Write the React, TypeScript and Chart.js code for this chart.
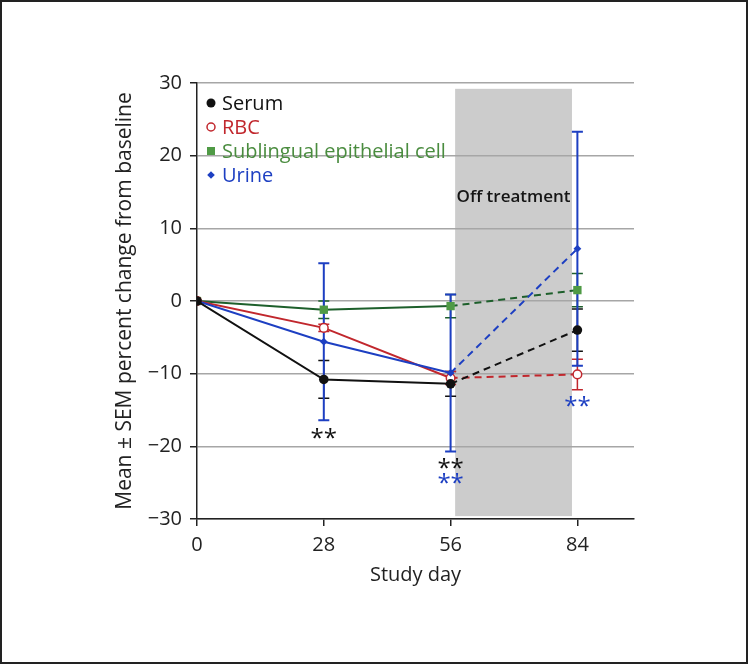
import React, { useEffect, useRef } from 'react';
import { Chart, registerables } from 'chart.js';

Chart.register(...registerables);

const FONT = "'Open Sans', 'Noto Sans', sans-serif";

const days = [0, 28, 56, 84];
const xTickValues = [0, 28, 56, 84];
const yTickValues = [-30, -20, -10, 0, 10, 20, 30];

const serumLabel = 'Serum';
const serum = [0, -10.8, -11.4, -4.0];
const serumSem = [0, 2.6, 1.7, 2.9];

const rbcLabel = 'RBC';
const rbc = [0, -3.7, -10.6, -10.1];
const rbcSem = [0, 0.5, 0.9, 2.1];

const sublingualLabel = 'Sublingual epithelial cell';
const sublingual = [0, -1.2, -0.7, 1.5];
const sublingualSem = [0, 1.2, 1.6, 2.3];

const urineLabel = 'Urine';
const urine = [0, -5.6, -9.9, 7.2];
const urineSem = [0, 10.8, 10.8, 16.1];

const offTreatmentDays = [57, 82.8];
const offTreatmentLevels = [-29.6, 29.2];
const offTreatmentLabel = 'Off treatment';

// significance markers: day, anchor value, text, series colour key
const sigDays = [28, 56, 56, 84];
const sigLevels = [-18.5, -22.6, -24.7, -14.1];
const sigKeys = ['serum', 'serum', 'urine', 'urine'];

const COLORS: Record<string, { line: string; marker: string; text: string }> = {
  serum: { line: '#111111', marker: '#111111', text: '#111111' },
  rbc: { line: '#c1272d', marker: '#c1272d', text: '#c1272d' },
  sublingual: { line: '#1d5f2b', marker: '#4f9a45', text: '#4a8c3f' },
  urine: { line: '#1d3fc2', marker: '#1d3fc2', text: '#1d3fc2' },
};

type SeriesDef = {
  key: string;
  label: string;
  values: number[];
  sem: number[];
  style: 'circle' | 'open' | 'square' | 'diamond';
};

const SERIES: SeriesDef[] = [
  { key: 'serum', label: serumLabel, values: serum, sem: serumSem, style: 'circle' },
  { key: 'rbc', label: rbcLabel, values: rbc, sem: rbcSem, style: 'open' },
  { key: 'sublingual', label: sublingualLabel, values: sublingual, sem: sublingualSem, style: 'square' },
  { key: 'urine', label: urineLabel, values: urine, sem: urineSem, style: 'diamond' },
];

function drawMarker(ctx: CanvasRenderingContext2D, style: string, key: string, x: number, y: number) {
  const c = COLORS[key];
  ctx.save();
  ctx.beginPath();
  if (style === 'circle') {
    ctx.arc(x, y, 4.5, 0, Math.PI * 2);
    ctx.fillStyle = c.marker;
    ctx.fill();
  } else if (style === 'open') {
    ctx.arc(x, y, 4, 0, Math.PI * 2);
    ctx.fillStyle = '#fff';
    ctx.fill();
    ctx.lineWidth = 1.5;
    ctx.strokeStyle = c.marker;
    ctx.stroke();
  } else if (style === 'square') {
    ctx.rect(x - 4, y - 4, 8, 8);
    ctx.fillStyle = c.marker;
    ctx.fill();
  } else {
    ctx.moveTo(x - 3.8, y);
    ctx.lineTo(x, y - 3.8);
    ctx.lineTo(x + 3.8, y);
    ctx.lineTo(x, y + 3.8);
    ctx.closePath();
    ctx.fillStyle = c.marker;
    ctx.fill();
  }
  ctx.restore();
}

const decorPlugin = {
  id: 'decor',
  beforeDraw(chart: any) {
    const { ctx, scales } = chart;
    const x = scales.x;
    const y = scales.y;
    const x0 = x.getPixelForValue(offTreatmentDays[0]);
    const x1 = x.getPixelForValue(offTreatmentDays[1]);
    const y0 = y.getPixelForValue(offTreatmentLevels[1]);
    const y1 = y.getPixelForValue(offTreatmentLevels[0]);
    ctx.save();
    ctx.fillStyle = '#cccccc';
    ctx.fillRect(x0, y0, x1 - x0, y1 - y0);
    ctx.restore();
  },
  beforeDatasetsDraw(chart: any) {
    const { ctx, scales } = chart;
    const x = scales.x;
    const y = scales.y;
    ctx.save();
    SERIES.forEach((s) => {
      ctx.strokeStyle = COLORS[s.key].line;
      ctx.lineWidth = s.key === 'urine' ? 2 : 1.5;
      days.forEach((d, i) => {
        const e = s.sem[i];
        if (!e) return;
        const px = x.getPixelForValue(d);
        const pt = y.getPixelForValue(s.values[i] + e);
        const pb = y.getPixelForValue(s.values[i] - e);
        ctx.beginPath();
        ctx.moveTo(px, pt);
        ctx.lineTo(px, pb);
        ctx.moveTo(px - 5.5, pt);
        ctx.lineTo(px + 5.5, pt);
        ctx.moveTo(px - 5.5, pb);
        ctx.lineTo(px + 5.5, pb);
        ctx.stroke();
      });
    });
    ctx.restore();
  },
  afterDraw(chart: any) {
    const { ctx, scales, chartArea } = chart;
    const x = scales.x;
    const y = scales.y;
    ctx.save();
    // Off treatment label
    ctx.font = `600 17px ${FONT}`;
    ctx.fillStyle = '#151515';
    ctx.textAlign = 'center';
    ctx.textBaseline = 'middle';
    const cx = (x.getPixelForValue(offTreatmentDays[0]) + x.getPixelForValue(offTreatmentDays[1])) / 2;
    ctx.fillText(offTreatmentLabel, cx, y.getPixelForValue(14.3));

    // significance stars
    ctx.font = `24px ${FONT}`;
    sigDays.forEach((d, i) => {
      ctx.fillStyle = COLORS[sigKeys[i]].text;
      ctx.fillText('**', x.getPixelForValue(d), y.getPixelForValue(sigLevels[i]) + 4);
    });

    // legend
    ctx.font = `20px ${FONT}`;
    ctx.textAlign = 'left';
    SERIES.forEach((s, i) => {
      const ly = chartArea.top + 20 + i * 24;
      drawMarker(ctx, s.style, s.key, chartArea.left + 14, ly);
      ctx.fillStyle = COLORS[s.key].text;
      ctx.fillText(s.label, chartArea.left + 25, ly + 1);
    });
    ctx.restore();
  },
};

export default function App() {
  const ref = useRef<HTMLCanvasElement | null>(null);

  useEffect(() => {
    if (!ref.current) return;
    const pointStyles: Record<string, any> = {
      circle: { pointStyle: 'circle', pointRadius: 4.8, bg: (k: string) => COLORS[k].marker, bw: 0 },
      open: { pointStyle: 'circle', pointRadius: 4.3, bg: () => '#ffffff', bw: 1.5 },
      square: { pointStyle: 'rect', pointRadius: 5.9, bg: (k: string) => COLORS[k].marker, bw: 0 },
      diamond: { pointStyle: 'rectRot', pointRadius: 3.9, bg: (k: string) => COLORS[k].marker, bw: 0 },
    };
    const drawOrder = ['sublingual', 'rbc', 'urine', 'serum'];
    const datasets = SERIES.map((s) => {
      const ps = pointStyles[s.style];
      return {
        label: s.label,
        data: days.map((d, i) => ({ x: d, y: s.values[i] })),
        borderColor: COLORS[s.key].line,
        borderWidth: 2,
        pointStyle: ps.pointStyle,
        pointRadius: ps.pointRadius,
        pointHoverRadius: ps.pointRadius,
        pointBackgroundColor: ps.bg(s.key),
        pointBorderColor: COLORS[s.key].marker,
        pointBorderWidth: ps.bw,
        tension: 0,
        fill: false,
        order: drawOrder.indexOf(s.key) * -1,
        segment: {
          borderDash: (c: any) => (c.p0DataIndex >= 2 ? [7, 5] : undefined),
        },
      };
    });

    const chart = new Chart(ref.current, {
      type: 'line',
      data: { datasets },
      plugins: [decorPlugin],
      options: {
        animation: false,
        responsive: false,
        devicePixelRatio: 1,
        layout: { padding: { top: 83, right: 114, bottom: 0, left: 0 } },
        plugins: { legend: { display: false }, tooltip: { enabled: false } },
        scales: {
          x: {
            type: 'linear',
            min: 0,
            max: 96.5,
            afterBuildTicks: (s: any) => {
              s.ticks = xTickValues.map((v) => ({ value: v }));
            },
            afterFit: (s: any) => {
              s.height = 145;
            },
            grid: { drawOnChartArea: false, drawTicks: true, tickLength: 7, tickColor: '#222', lineWidth: 1.5 },
            border: { color: '#222', width: 1.5 },
            ticks: { color: '#222', font: { family: FONT, size: 20 }, padding: 7, maxRotation: 0, autoSkip: false },
            title: {
              display: true,
              text: 'Study day',
              color: '#222',
              font: { family: FONT, size: 20 },
              padding: { top: 0, bottom: 77 },
            },
          },
          y: {
            type: 'linear',
            min: -30,
            max: 30,
            afterBuildTicks: (s: any) => {
              s.ticks = yTickValues.map((v) => ({ value: v }));
            },
            afterFit: (s: any) => {
              s.width = 197;
            },
            grid: { color: '#a6a6a6', lineWidth: 1.5, drawTicks: true, tickLength: 7, tickColor: '#222' },
            border: { color: '#222', width: 1.5 },
            ticks: {
              color: '#222',
              font: { family: FONT, size: 20 },
              padding: 8,
              callback: (v: any) => (Number(v) < 0 ? '\u2212' + Math.abs(Number(v)) : String(v)),
            },
            title: {
              display: true,
              text: 'Mean \u00b1 SEM percent change from baseline',
              color: '#222',
              font: { family: FONT, size: 21 },
              padding: { top: 112, bottom: 0 },
            },
          },
        },
      } as any,
    });
    return () => chart.destroy();
  }, []);

  return (
    <div style={{ position: 'absolute', left: 0, top: 0, width: 748, height: 664, background: '#fff' }}>
      <canvas ref={ref} width={748} height={664} style={{ display: 'block', width: 748, height: 664 }} />
      <div
        style={{
          position: 'absolute',
          left: 0,
          top: 0,
          width: 748,
          height: 664,
          boxSizing: 'border-box',
          border: '2px solid #222',
          pointerEvents: 'none',
        }}
      />
    </div>
  );
}
